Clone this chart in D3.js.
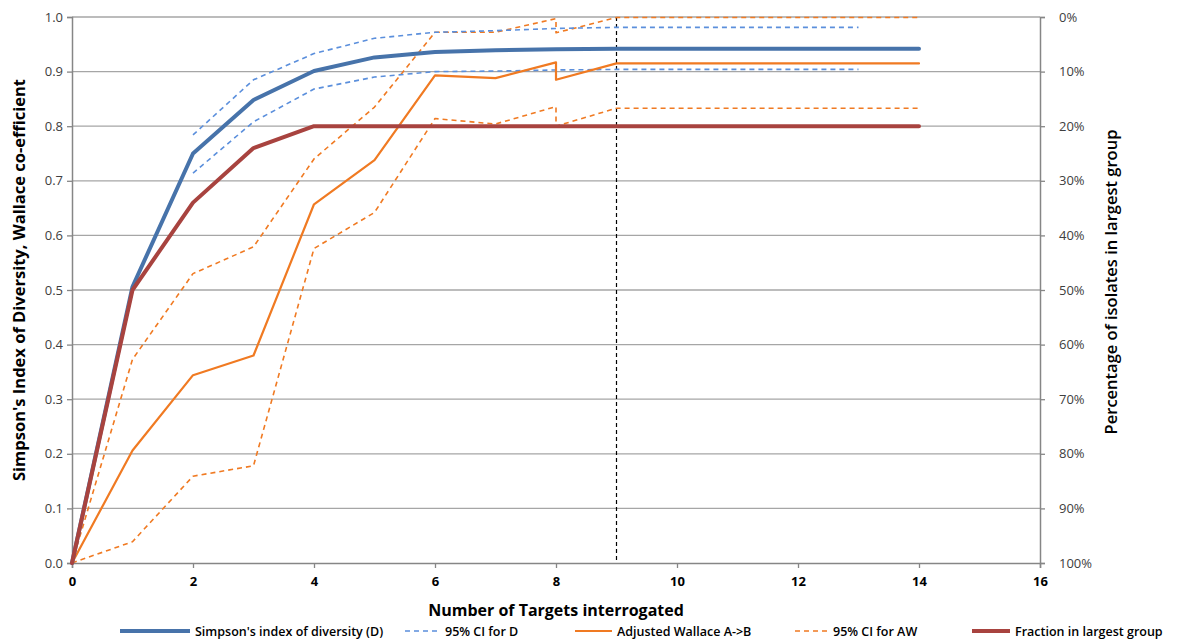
<!DOCTYPE html>
<html>
<head>
<meta charset="utf-8">
<script src="https://cdn.jsdelivr.net/npm/d3@7"></script>
<style>
  body { margin: 0; background: #fff; font-family: "Open Sans", "Liberation Sans", sans-serif; }
</style>
</head>
<body>
<script>
// Chart data
var targets = [0, 1, 2, 3, 4, 5, 6, 7, 8, 9, 10, 11, 12, 13, 14];
var simpsonD = [0, 0.506, 0.750, 0.848, 0.901, 0.926, 0.936, 0.939, 0.941, 0.942, 0.942, 0.942, 0.942, 0.942, 0.942];

var ciDTargets = [2, 3, 4, 5, 6, 7, 8, 9, 10, 11, 12, 13];
var ciDUpper = [0.784, 0.885, 0.933, 0.961, 0.972, 0.975, 0.979, 0.981, 0.981, 0.981, 0.981, 0.981];
var ciDLower = [0.714, 0.808, 0.868, 0.890, 0.900, 0.901, 0.903, 0.904, 0.904, 0.904, 0.904, 0.904];

// the Wallace series has two values at 8 (a step)
var awTargets = [0, 1, 2, 3, 4, 5, 6, 7, 8, 8, 9, 10, 11, 12, 13, 14];
var adjWallace = [0, 0.206, 0.344, 0.380, 0.657, 0.738, 0.893, 0.888, 0.917, 0.885, 0.915, 0.915, 0.915, 0.915, 0.915, 0.915];
var awUpper = [0, 0.373, 0.530, 0.579, 0.740, 0.835, 0.972, 0.972, 0.997, 0.971, 0.999, 0.999, 0.999, 0.999, 0.999, 0.999];
var awLower = [0, 0.039, 0.159, 0.178, 0.576, 0.642, 0.814, 0.804, 0.836, 0.800, 0.833, 0.833, 0.833, 0.833, 0.833, 0.833];

// percentage of isolates in largest group (right axis, reversed)
var largestGroup = [1.0, 0.5, 0.34, 0.24, 0.2, 0.2, 0.2, 0.2, 0.2, 0.2, 0.2, 0.2, 0.2, 0.2, 0.2];

var xTicks = [0, 2, 4, 6, 8, 10, 12, 14, 16];
var yTicks = [0, 0.1, 0.2, 0.3, 0.4, 0.5, 0.6, 0.7, 0.8, 0.9, 1.0];
var cutoff = 9;

var legendNames = ["Simpson's index of diversity (D)", "95% CI for D", "Adjusted Wallace A->B", "95% CI for AW", "Fraction in largest group"];

// SVG area
var svgWidth = 1179;
var svgHeight = 641;
var margin = { top: 17, right: 139, bottom: 78, left: 72 };
var chartWidth = svgWidth - margin.left - margin.right;
var chartHeight = svgHeight - margin.top - margin.bottom;

var svg = d3.select("body").append("svg")
  .attr("width", svgWidth)
  .attr("height", svgHeight);

var chartGroup = svg.append("g")
  .attr("transform", `translate(${margin.left}, ${margin.top})`);

var xScale = d3.scaleLinear().domain([0, 16]).range([0, chartWidth]);
var yScale = d3.scaleLinear().domain([0, 1]).range([chartHeight, 0]);
var yRight = d3.scaleLinear().domain([0, 1]).range([0, chartHeight]);

var gridColor = "#a6a6a6";
var axisColor = "#868686";

// gridlines
chartGroup.append("g")
  .selectAll("line")
  .data(yTicks.slice(1))
  .enter()
  .append("line")
  .attr("x1", 0)
  .attr("x2", chartWidth)
  .attr("y1", d => yScale(d))
  .attr("y2", d => yScale(d))
  .attr("stroke", gridColor)
  .attr("stroke-width", 1.3);

// axes
var leftAxis = chartGroup.append("g")
  .call(d3.axisLeft(yScale).tickValues(yTicks).tickFormat(d3.format(".1f")).tickSize(5).tickPadding(4));
var rightAxis = chartGroup.append("g")
  .attr("transform", `translate(${chartWidth}, 0)`)
  .call(d3.axisRight(yRight).tickValues(yTicks).tickFormat(d3.format(".0%")).tickSize(5).tickPadding(14));
var bottomAxis = chartGroup.append("g")
  .attr("transform", `translate(0, ${chartHeight})`)
  .call(d3.axisBottom(xScale).tickValues(xTicks).tickSize(5).tickPadding(9));

[leftAxis, rightAxis, bottomAxis].forEach(function(a) {
  a.select(".domain").attr("stroke", axisColor).attr("stroke-width", 1.5);
  a.selectAll(".tick line").attr("stroke", axisColor).attr("stroke-width", 1.3);
  a.selectAll("text")
    .style("font-family", "'Open Sans', sans-serif")
    .style("font-size", "13px")
    .attr("fill", "#404040");
});
bottomAxis.selectAll("text").style("font-weight", "bold").attr("fill", "#000");

// vertical cutoff line
chartGroup.append("line")
  .attr("x1", xScale(cutoff))
  .attr("x2", xScale(cutoff))
  .attr("y1", 0)
  .attr("y2", chartHeight)
  .attr("stroke", "#000")
  .attr("stroke-width", 1.2)
  .attr("stroke-dasharray", "4,3");

function drawLine(xs, ys, scale, color, width, dash) {
  var pts = xs.map((x, i) => [x, ys[i]]);
  var line = d3.line().x(d => xScale(d[0])).y(d => scale(d[1]));
  chartGroup.append("path")
    .datum(pts)
    .attr("fill", "none")
    .attr("stroke", color)
    .attr("stroke-width", width)
    .attr("stroke-dasharray", dash || null)
    .attr("stroke-linejoin", "round")
    .attr("stroke-linecap", dash ? "butt" : "round")
    .attr("d", line);
}

var blue = "#4773aa";
var lightBlue = "#5b8fdc";
var orange = "#f07a22";
var red = "#a8433f";

drawLine(awTargets, awLower, yScale, orange, 1.6, "5,4");
drawLine(awTargets, awUpper, yScale, orange, 1.6, "5,4");
drawLine(ciDTargets, ciDLower, yScale, lightBlue, 1.6, "5,4");
drawLine(ciDTargets, ciDUpper, yScale, lightBlue, 1.6, "5,4");
drawLine(awTargets, adjWallace, yScale, orange, 2.2);
drawLine(targets, simpsonD, yScale, blue, 4);
drawLine(targets, largestGroup, yRight, red, 4);

// axis titles
svg.append("text")
  .attr("transform", `translate(25, 280) rotate(-90)`)
  .attr("text-anchor", "middle")
  .style("font-size", "16.5px")
  .style("font-weight", "bold")
  .text("Simpson's Index of Diversity, Wallace co-efficient");

svg.append("text")
  .attr("transform", `translate(1117, 282) rotate(-90)`)
  .attr("text-anchor", "middle")
  .style("font-size", "16.5px")
  .style("font-weight", "600")
  .text("Percentage of isolates in largest group");

svg.append("text")
  .attr("x", 556)
  .attr("y", 616)
  .attr("text-anchor", "middle")
  .style("font-size", "16px")
  .style("font-weight", "bold")
  .text("Number of Targets interrogated");

// legend
var legendItems = [
  { x: 120, len: 70, color: blue, width: 4, dash: null },
  { x: 405, len: 35, color: lightBlue, width: 1.6, dash: "5,4" },
  { x: 575, len: 37, color: orange, width: 2.2, dash: null },
  { x: 795, len: 33, color: orange, width: 1.6, dash: "5,4" },
  { x: 972, len: 38, color: red, width: 4, dash: null }
];
var legend = svg.append("g").attr("transform", "translate(0, 631)");
legendItems.forEach(function(item, i) {
  legend.append("line")
    .attr("x1", item.x)
    .attr("x2", item.x + item.len)
    .attr("y1", 0)
    .attr("y2", 0)
    .attr("stroke", item.color)
    .attr("stroke-width", item.width)
    .attr("stroke-dasharray", item.dash);
  legend.append("text")
    .attr("x", item.x + item.len + 5)
    .attr("y", 4.5)
    .style("font-size", "12.5px")
    .style("font-weight", "600")
    .text(legendNames[i]);
});
</script>
</body>
</html>
